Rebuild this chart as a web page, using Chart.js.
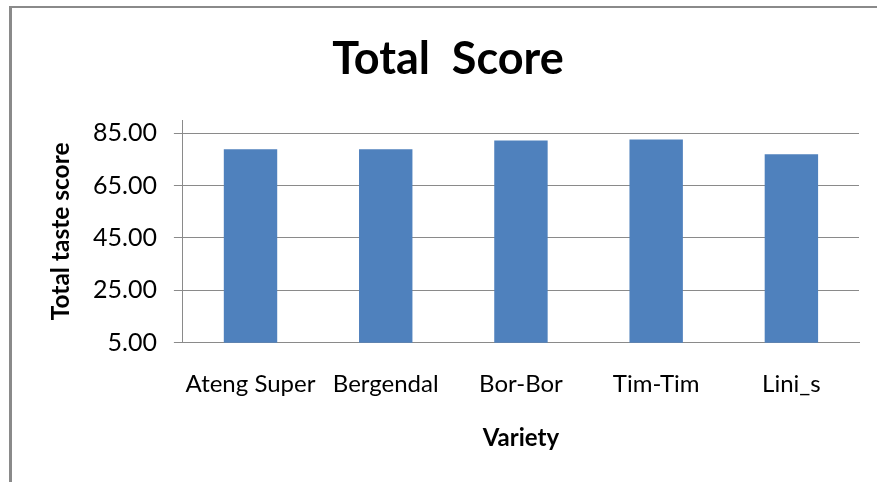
<!DOCTYPE html>
<html>
<head>
<meta charset="utf-8">
<script src="https://cdn.jsdelivr.net/npm/chart.js@4"></script>
<style>
  body { margin: 0; background: #fff; overflow: hidden; }
  #wrap { position: relative; width: 877px; height: 482px; }
  #frame {
    position: absolute; left: 9px; top: 6px; width: 900px; height: 500px;
    border-top: 2px solid #8a8a8a; border-left: 3px solid #8a8a8a;
    pointer-events: none;
  }
</style>
</head>
<body>
<div id="wrap">
  <canvas id="scoreChart" width="877" height="482"></canvas>
  <div id="frame"></div>
</div>
<script>
const varieties = ['Ateng Super', 'Bergendal', 'Bor-Bor', 'Tim-Tim', 'Lini_s'];
const totalScores = [78.8, 78.8, 82.2, 82.6, 76.9];
const yTicks = [5, 25, 45, 65, 85];

const ctx = document.getElementById('scoreChart');

new Chart(ctx, {
  type: 'bar',
  data: {
    labels: varieties,
    datasets: [{
      label: 'Total score',
      data: totalScores,
      backgroundColor: '#4f81bd',
      borderWidth: 0,
      categoryPercentage: 1,
      barPercentage: 0.395
    }]
  },
  options: {
    responsive: false,
    animation: false,
    layout: { padding: { left: 37, right: 18, top: 0, bottom: 0 } },
    plugins: {
      legend: { display: false },
      tooltip: { enabled: false },
      title: {
        display: true,
        text: 'Total  Score',
        color: '#000',
        font: { family: 'Lato', size: 45, weight: 'bold' },
        padding: { top: 32, bottom: 34 }
      }
    },
    scales: {
      x: {
        grid: { display: false, drawTicks: false },
        border: { display: true, color: '#8a8a8a', width: 1 },
        ticks: {
          color: '#000',
          padding: 27,
          maxRotation: 0,
          font: { family: 'Lato', size: 24 }
        },
        title: {
          display: true,
          text: 'Variety',
          color: '#000',
          font: { family: 'Lato', size: 24, weight: 'bold' },
          padding: { top: -2, bottom: 29.6 }
        }
      },
      y: {
        min: 5,
        max: 90,
        afterBuildTicks: (axis) => {
          axis.ticks = yTicks.map(v => ({ value: v }));
        },
        grid: { color: '#8a8a8a', lineWidth: 1, tickLength: 9 },
        border: { display: true, color: '#8a8a8a', width: 1 },
        ticks: {
          color: '#000',
          padding: 17,
          font: { family: 'Lato', size: 25 },
          callback: (v) => Number(v).toFixed(2)
        },
        title: {
          display: true,
          text: 'Total taste score',
          color: '#000',
          font: { family: 'Lato', size: 24.5, weight: 'bold' },
          padding: { top: 9.3, bottom: 0.3 }
        }
      }
    }
  }
});
</script>
</body>
</html>
